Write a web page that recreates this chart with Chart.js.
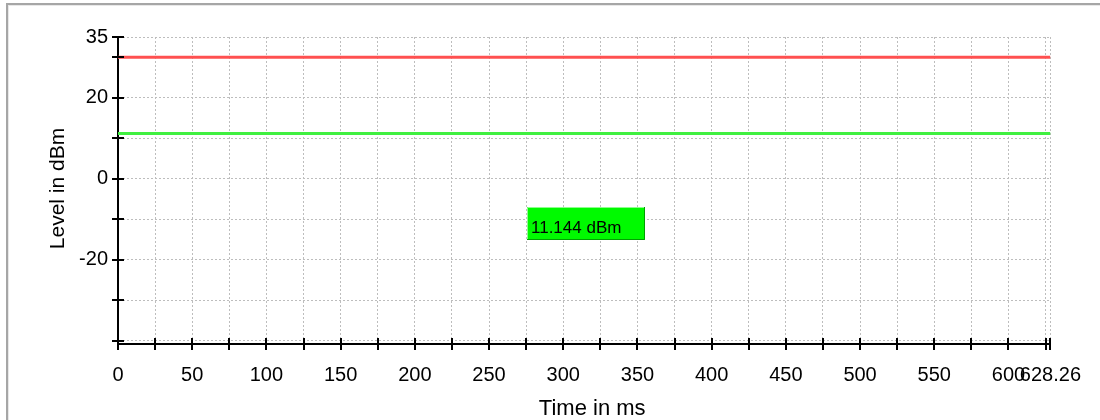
<!DOCTYPE html>
<html>
<head>
<meta charset="utf-8">
<script src="https://cdn.jsdelivr.net/npm/chart.js@4.4.1/dist/chart.umd.min.js"></script>
<style>
  html, body { margin: 0; padding: 0; background: #fff; }
  #wrap { position: relative; width: 1100px; height: 420px; }
  #wrap canvas { position: absolute; left: 0; top: 0; }
  #frame { position: absolute; left: 6px; top: 3px; right: 0; bottom: 0; border-top: 2px solid #a6a6a6; border-left: 2px solid #a6a6a6; box-shadow: inset 1px 1px 0 #e8e8e8; pointer-events: none; }
</style>
</head>
<body>
<div id="wrap">
  <canvas id="levelChart" width="1100" height="420"></canvas>
  <div id="frame"></div>
</div>
<script>
// --- data ---
const timeMs = [0, 628.26];
const limitLevel = [30, 30];            // red line
const measuredLevel = [11.144, 11.144]; // green line
const measuredText = '11.144 dBm';

const xTickValues = [0, 25, 50, 75, 100, 125, 150, 175, 200, 225, 250, 275, 300, 325, 350, 375, 400, 425, 450, 475, 500, 525, 550, 575, 600, 625, 628.26];
const xLabelValues = [0, 50, 100, 150, 200, 250, 300, 350, 400, 450, 500, 550, 600, 628.26];
const yTickValues = [-40, -30, -20, -10, 0, 10, 20, 30, 35];
const yLabelValues = [-20, 0, 20, 35];

const xTitle = 'Time in ms';
const yTitle = 'Level in dBm';

const FONT = "'Liberation Sans', Arial, sans-serif";

const toPoints = (xs, ys) => xs.map((v, i) => ({ x: v, y: ys[i] }));

// cross ticks, value box and axis titles
const axisDecor = {
    id: 'axisDecor',
    afterDatasetsDraw(chart) {
        const { ctx, chartArea: a, scales: { x, y } } = chart;

        // value box
        const bx = Math.round(x.getPixelForValue(275.3));
        const by = Math.round(y.getPixelForValue(-6.9));
        const bw = 118, bh = 33;
        ctx.save();
        ctx.fillStyle = '#00fa00';
        ctx.fillRect(bx, by, bw, bh);
        ctx.lineWidth = 1;
        ctx.strokeStyle = '#8cff8c';
        ctx.beginPath();
        ctx.moveTo(bx + 0.5, by + bh); ctx.lineTo(bx + 0.5, by + 0.5); ctx.lineTo(bx + bw, by + 0.5);
        ctx.stroke();
        ctx.strokeStyle = '#00a000';
        ctx.beginPath();
        ctx.moveTo(bx, by + bh - 0.5); ctx.lineTo(bx + bw - 0.5, by + bh - 0.5); ctx.lineTo(bx + bw - 0.5, by);
        ctx.stroke();
        ctx.fillStyle = '#000';
        ctx.font = '17px ' + FONT;
        ctx.textAlign = 'left';
        ctx.textBaseline = 'alphabetic';
        ctx.fillText(measuredText, bx + 4, by + 26);
        ctx.restore();

        // ticks crossing the axes
        ctx.save();
        ctx.strokeStyle = '#000';
        ctx.lineWidth = 2;
        ctx.beginPath();
        xTickValues.forEach(v => {
            const px = Math.round(x.getPixelForValue(v));
            ctx.moveTo(px, a.bottom - 6);
            ctx.lineTo(px, a.bottom + 6);
        });
        yTickValues.forEach(v => {
            const py = Math.round(y.getPixelForValue(v));
            ctx.moveTo(a.left - 6, py);
            ctx.lineTo(a.left + 6, py);
        });
        ctx.stroke();
        ctx.restore();

        // axis titles
        ctx.save();
        ctx.fillStyle = '#000';
        ctx.textAlign = 'center';
        ctx.textBaseline = 'alphabetic';
        ctx.font = '22px ' + FONT;
        ctx.fillText(xTitle, (a.left + a.right) / 2 + 8, 415);
        ctx.font = '21px ' + FONT;
        ctx.translate(64, (a.top + a.bottom) / 2 - 2);
        ctx.rotate(-Math.PI / 2);
        ctx.fillText(yTitle, 0, 0);
        ctx.restore();
    }
};

new Chart(document.getElementById('levelChart'), {
    type: 'line',
    data: {
        datasets: [
            {
                data: toPoints(timeMs, limitLevel),
                borderColor: '#ff5050',
                borderWidth: 3,
                pointRadius: 0,
                fill: false
            },
            {
                data: toPoints(timeMs, measuredLevel),
                borderColor: '#40f040',
                borderWidth: 3,
                pointRadius: 0,
                fill: false
            }
        ]
    },
    options: {
        responsive: false,
        animation: false,
        devicePixelRatio: 1,
        layout: { padding: { top: 37, right: 48.5, left: 0, bottom: 0 } },
        plugins: { legend: { display: false }, tooltip: { enabled: false } },
        scales: {
            x: {
                type: 'linear',
                min: 0,
                max: 628.26,
                afterBuildTicks: s => { s.ticks = xTickValues.map(v => ({ value: v })); },
                afterFit: s => { s.height = 76; },
                grid: { color: '#bdbdbd', lineWidth: 1, drawTicks: false },
                border: { display: true, color: '#000', width: 2, dash: [2, 2] },
                ticks: {
                    autoSkip: false,
                    maxRotation: 0,
                    minRotation: 0,
                    padding: 19,
                    color: '#000',
                    font: { family: FONT, size: 20 },
                    callback: v => xLabelValues.includes(v) ? String(v) : ''
                }
            },
            y: {
                type: 'linear',
                min: -40.8,
                max: 35,
                afterBuildTicks: s => { s.ticks = yTickValues.map(v => ({ value: v })); },
                afterFit: s => { s.width = 118; },
                grid: { color: '#bdbdbd', lineWidth: 1, drawTicks: false },
                border: { display: true, color: '#000', width: 2, dash: [2, 2] },
                ticks: {
                    autoSkip: false,
                    padding: 10,
                    color: '#000',
                    font: { family: FONT, size: 20 },
                    callback: v => yLabelValues.includes(v) ? String(v) : ''
                }
            }
        }
    },
    plugins: [axisDecor]
});
</script>
</body>
</html>
